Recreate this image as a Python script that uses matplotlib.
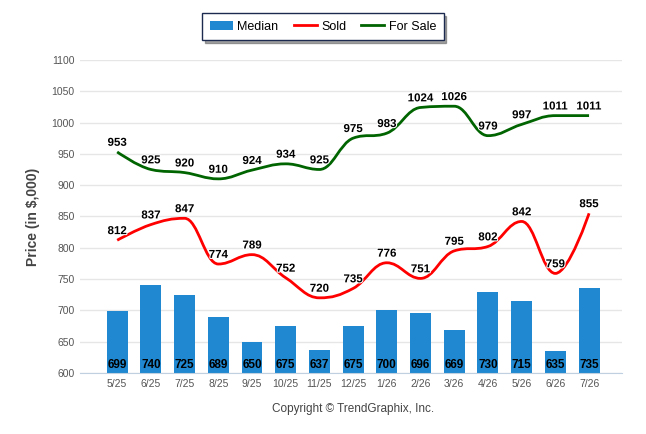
import matplotlib.pyplot as plt
from matplotlib.path import Path
from matplotlib.patches import PathPatch
import matplotlib.patheffects as pe

# data
months = ['5/25', '6/25', '7/25', '8/25', '9/25', '10/25', '11/25', '12/25',
          '1/26', '2/26', '3/26', '4/26', '5/26', '6/26', '7/26']
median = [699, 740, 725, 689, 650, 675, 637, 675, 700, 696, 669, 730, 715, 635, 735]
sold = [812, 837, 847, 774, 789, 752, 720, 735, 776, 751, 795, 802, 842, 759, 855]
for_sale = [953, 925, 920, 910, 924, 934, 925, 975, 983, 1024, 1026, 979, 997, 1011, 1011]

plt.rcParams['font.family'] = ['Liberation Sans', 'DejaVu Sans']


def spline_path(xs, ys, smoothing=1.5):
    # highcharts-like spline control points
    n = len(xs)
    verts = [(xs[0], ys[0])]
    codes = [Path.MOVETO]
    ctrl = []
    d = smoothing + 1
    for i in range(n):
        if i == 0 or i == n - 1:
            ctrl.append(((xs[i], ys[i]), (xs[i], ys[i])))
            continue
        lx = (smoothing * xs[i] + xs[i - 1]) / d
        ly = (smoothing * ys[i] + ys[i - 1]) / d
        rx = (smoothing * xs[i] + xs[i + 1]) / d
        ry = (smoothing * ys[i] + ys[i + 1]) / d
        corr = (ry - ly) * (rx - xs[i]) / (rx - lx) + ys[i] - ry
        ly += corr
        ry += corr
        if ly > ys[i - 1] and ly > ys[i]:
            ly = max(ys[i - 1], ys[i]); ry = 2 * ys[i] - ly
        elif ly < ys[i - 1] and ly < ys[i]:
            ly = min(ys[i - 1], ys[i]); ry = 2 * ys[i] - ly
        if ry > ys[i + 1] and ry > ys[i]:
            ry = max(ys[i + 1], ys[i]); ly = 2 * ys[i] - ry
        elif ry < ys[i + 1] and ry < ys[i]:
            ry = min(ys[i + 1], ys[i]); ly = 2 * ys[i] - ry
        ctrl.append(((lx, ly), (rx, ry)))
    for i in range(1, n):
        verts += [ctrl[i - 1][1], ctrl[i][0], (xs[i], ys[i])]
        codes += [Path.CURVE4] * 3
    return Path(verts, codes)


fig = plt.figure(figsize=(6.46, 4.34), dpi=100)
ax = fig.add_axes([0.124, 0.1406, 0.839, 0.7214])

x = list(range(len(months)))
h_bar = ax.bar(x, median, width=0.62, color='#1f88d0', zorder=2)

ax.add_patch(PathPatch(spline_path(x, sold), facecolor='none', edgecolor='#ff0000', lw=2, zorder=3))
ax.add_patch(PathPatch(spline_path(x, for_sale), facecolor='none', edgecolor='#006400', lw=2, zorder=3))
h_sold, = ax.plot([], [], color='#ff0000', lw=2)
h_sale, = ax.plot([], [], color='#006400', lw=2)

outline = [pe.withStroke(linewidth=1.5, foreground='white')]
for i in x:
    ax.text(i, 603, str(median[i]), ha='center', va='bottom', fontsize=8.5, fontweight='bold', zorder=4)
    ax.text(i, sold[i] + 5, str(sold[i]), ha='center', va='bottom', fontsize=8.3, fontweight='bold', zorder=4,
            path_effects=outline)
    ax.text(i, for_sale[i] + 5, str(for_sale[i]), ha='center', va='bottom', fontsize=8.3, fontweight='bold', zorder=4,
            path_effects=outline)

ax.set_ylim(600, 1100)
ax.set_xlim(-1.1, 14.98)
ax.set_yticks(range(600, 1101, 50))
ax.set_xticks(x)
ax.set_xticklabels(months)
ax.tick_params(axis='both', length=0, labelsize=7.5, labelcolor='#555555')
ax.tick_params(axis='x', pad=4)
ax.tick_params(axis='y', pad=4)
ax.grid(axis='y', color='#e6e6e6', lw=1, zorder=0)
ax.set_axisbelow(True)
for s in ['top', 'right', 'left']:
    ax.spines[s].set_visible(False)
ax.spines['bottom'].set_color('#c0d0e0')

ax.set_ylabel('Price (in $,000)', fontsize=10, fontweight='bold', color='#444444', labelpad=8)

fig.text(0.546, 0.057, 'Copyright \u00a9 TrendGraphix, Inc.', ha='center', va='center', fontsize=8.5, color='#444444')

leg = fig.legend([h_bar, h_sold, h_sale], ['Median', 'Sold', 'For Sale'],
                 loc='upper center', bbox_to_anchor=(0.5, 0.975), ncol=3, frameon=True, fancybox=False,
                 shadow=True, fontsize=9, handlelength=1.85, handletextpad=0.35, columnspacing=1.2,
                 borderpad=0.6, borderaxespad=0.2)
leg.get_frame().set_edgecolor('#1c2a50')
leg.get_frame().set_linewidth(1)

plt.savefig('out.png', dpi=100)
